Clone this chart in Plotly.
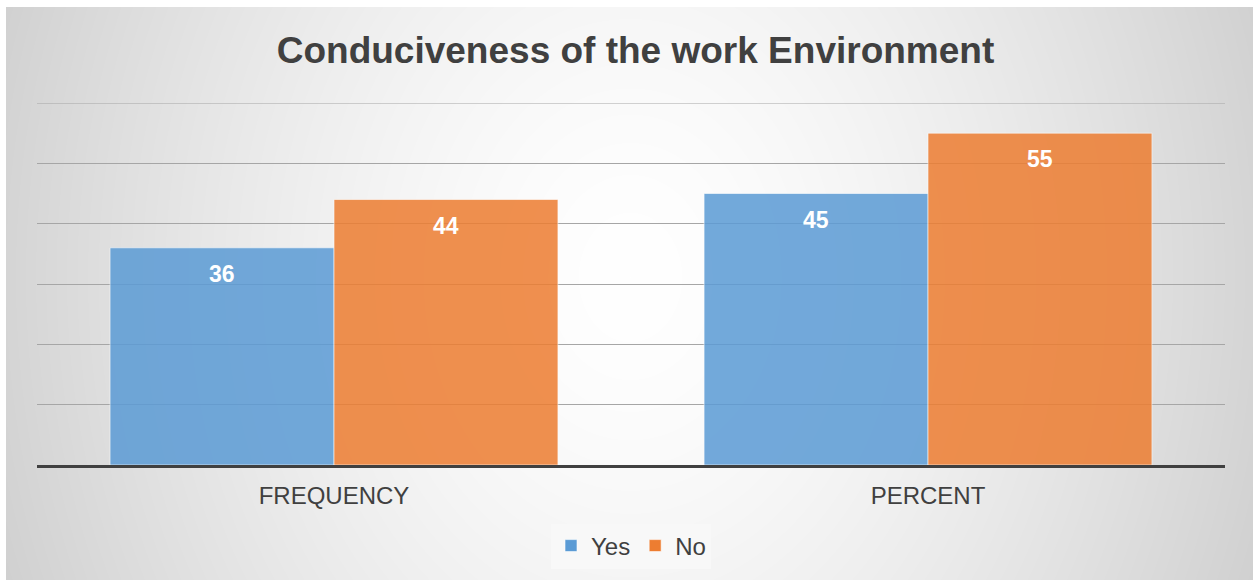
import base64
import struct
import zlib

import numpy as np
import plotly.graph_objects as go

categories = ["FREQUENCY", "PERCENT"]
yes_values = [36, 45]
no_values = [44, 55]
series_names = ["Yes", "No"]
title_text = "Conduciveness of the work Environment"
y_max = 60

W, H = 1253, 580
L, R, T, B = 37, 1225, 103, 465  # plot area in pixels
BG_X0, BG_Y0 = 6, 7


def gradient_png(w, h):
    ys, xs = np.mgrid[0:h, 0:w].astype(float)
    cx, cy = 624.0, 270.0
    rx, ry = 720.0, 900.0
    t = np.sqrt(((xs - cx) / rx) ** 2 + ((ys - cy) / ry) ** 2)
    t = np.clip(t, 0, 1)
    g = (255 - 52 * t ** 1.5).astype(np.uint8)
    raw = b"".join(b"\x00" + g[r].tobytes() for r in range(h))

    def chunk(tag, data):
        c = struct.pack(">I", len(data)) + tag + data
        return c + struct.pack(">I", zlib.crc32(tag + data) & 0xFFFFFFFF)

    png = b"\x89PNG\r\n\x1a\n"
    png += chunk(b"IHDR", struct.pack(">IIBBBBB", w, h, 8, 0, 0, 0, 0))
    png += chunk(b"IDAT", zlib.compress(raw, 9))
    png += chunk(b"IEND", b"")
    return "data:image/png;base64," + base64.b64encode(png).decode()


bg_w, bg_h = W - BG_X0, H - BG_Y0
pw, ph = R - L, B - T
label_font = dict(color="white", size=23, family="Liberation Sans, Arial", weight="bold")
grid_color = "#a6a6a6"

fig = go.Figure()
fig.add_trace(go.Bar(
    name=series_names[0], x=categories, y=yes_values,
    marker=dict(color="#5b9bd5", opacity=0.85,
                line=dict(color="rgba(255,255,255,0.6)", width=1)),
))
fig.add_trace(go.Bar(
    name=series_names[1], x=categories, y=no_values,
    marker=dict(color="#ed7d31", opacity=0.85,
                line=dict(color="rgba(255,255,255,0.6)", width=1)),
))

# data labels just inside the top of each bar
bar_half = 112
for vals, shift in ((yes_values, -bar_half), (no_values, bar_half)):
    for c, v in zip(categories, vals):
        fig.add_annotation(x=c, y=v, xref="x", yref="y", text=str(v),
                           showarrow=False, xshift=shift, yshift=-26,
                           font=label_font)

# top gridline at the axis maximum (plotly omits grid at the range edge)
fig.add_shape(type="line", xref="paper", yref="y", x0=0, x1=1,
              y0=y_max, y1=y_max, line=dict(color=grid_color, width=1),
              layer="below")

fig.add_layout_image(dict(
    source=gradient_png(bg_w, bg_h),
    xref="paper", yref="paper",
    x=(BG_X0 - L) / pw, y=(B - BG_Y0) / ph,
    sizex=bg_w / pw, sizey=bg_h / ph,
    xanchor="left", yanchor="top", sizing="stretch", layer="below",
))

fig.update_layout(
    width=W, height=H,
    margin=dict(l=L, r=W - R, t=T, b=H - B, pad=0),
    paper_bgcolor="white",
    plot_bgcolor="rgba(0,0,0,0)",
    barmode="group", bargap=0.246, bargroupgap=0,
    title=dict(text=title_text, x=635.5 / W, xanchor="center",
               y=1 - 50 / H, yanchor="middle", yref="container",
               font=dict(family="Liberation Sans, Arial", size=37,
                         color="#404040", weight="bold")),
    font=dict(family="Liberation Sans, Arial", color="#404040"),
    legend=dict(orientation="h", x=0.5, xanchor="center",
                y=(B - 546) / ph, yanchor="middle",
                bgcolor="#f8f8f8", font=dict(size=24, color="#404040"),
                itemwidth=30),
    showlegend=True,
    xaxis=dict(showline=True, linecolor="#404040", linewidth=3,
               ticks="", tickfont=dict(size=24, color="#404040"),
               ticklabelstandoff=7, showgrid=False),
    yaxis=dict(range=[0, y_max], tickvals=[10, 20, 30, 40, 50, 60],
               showticklabels=False,
               showgrid=True, gridcolor=grid_color, gridwidth=1,
               zeroline=False, showline=False, ticks=""),
)

fig.write_html("out.html")
